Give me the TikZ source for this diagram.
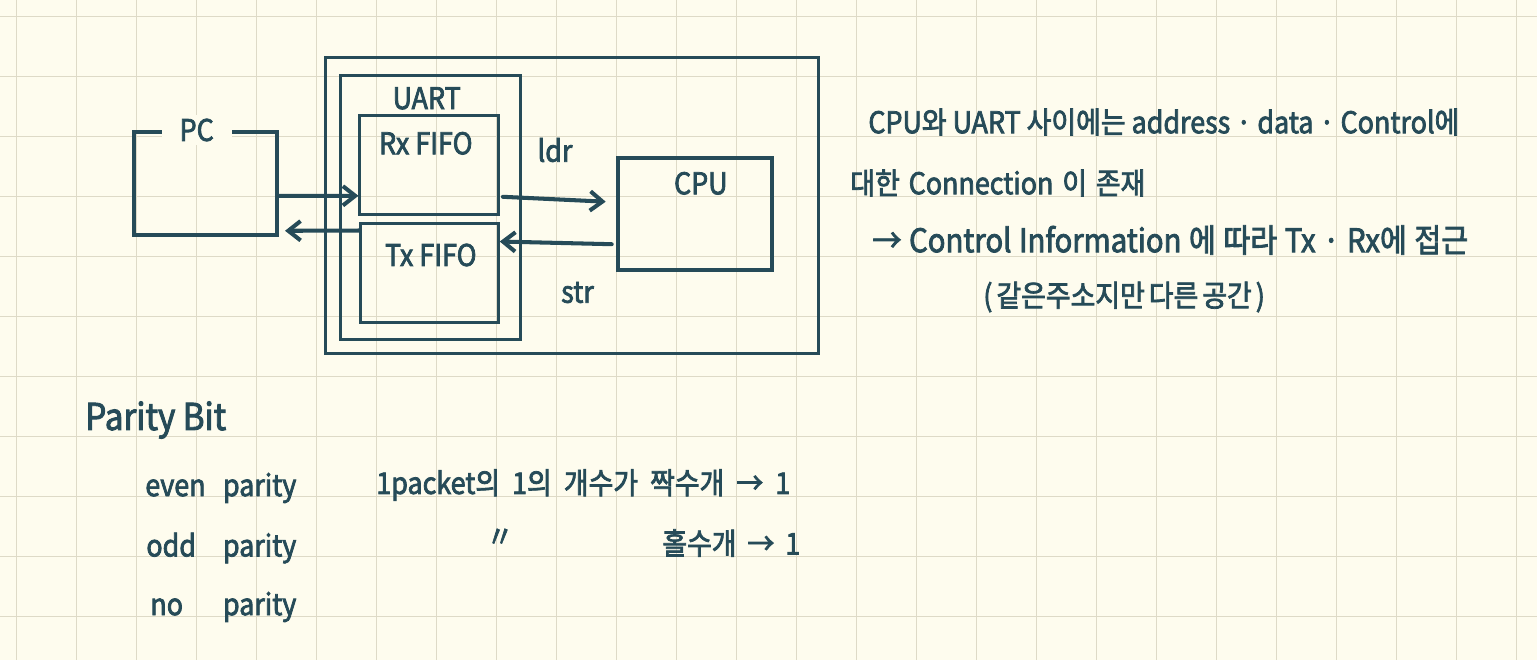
\documentclass[tikz,border=0pt]{standalone}
\usepackage{fontspec}
\setmainfont{Noto Sans CJK KR}
\newfontfamily\hand[FakeStretch=0.9, FakeBold=2.5]{Noto Sans CJK KR}
\usetikzlibrary{positioning, arrows.meta}
\definecolor{paperBg}{RGB}{254, 252, 238}
\definecolor{gridLine}{RGB}{222, 218, 199}
\definecolor{inkTeal}{RGB}{38, 75, 88}
\newcommand{\spread}[2]{\makebox[#1][s]{#2}}

\begin{document}
\begin{tikzpicture}[
    x=0.02cm, y=-0.02cm,
    font=\hand\fontsize{17}{20}\selectfont\color{inkTeal},
    gridrule/.style={gridLine, line width=0.8pt},
    frame/.style={rectangle, draw=inkTeal, line width=1.7pt, inner sep=0pt},
    handbox/.style={frame, line width=2.3pt},
    tag/.style={inner sep=0pt, text=inkTeal},
    note/.style={tag, anchor=west},
    arr/.style={-{Straight Barb[length=7pt, width=11pt]}, line width=2.3pt, line cap=round, inkTeal}
]
\useasboundingbox (0,0) rectangle (1537,660);
\fill[paperBg] (0,0) rectangle (1537,660);
\foreach \gx in {0,...,25}
    \draw[gridrule] ({16.7+60*\gx},0) -- ++(0,660);
\foreach \gy in {0,...,10}
    \draw[gridrule] (0,{16.7+60*\gy}) -- ++(1537,0);

% boxes
\node[frame, minimum width=9.85cm, minimum height=5.93cm] (board) at (572,205.7) {};
\node[frame, minimum width=3.59cm, minimum height=5.27cm] (uart) at (430.3,207.3) {};
\node[frame, minimum width=2.77cm, minimum height=1.97cm] (rx) at (429.2,164.8) {};
\node[frame, minimum width=2.75cm, minimum height=1.99cm] (tx) at (429.5,273) {};
\node[handbox, minimum width=2.86cm, minimum height=2.07cm] (pc) at (205.5,183.3) {};
\node[handbox, minimum width=3.08cm, minimum height=2.23cm] (cpu) at (694.7,214.2) {};

\node[tag, fill=paperBg, inner xsep=0.36cm, inner ysep=2pt] (pclbl) at (196.7,130) {PC};
\node[tag] (uartlbl) at (426.7,98.3) {UART};
\node[tag] (rxlbl) at (425.8,143.3) {Rx FIFO};
\node[tag] (txlbl) at (430.8,255) {Tx FIFO};
\node[tag] (cpulbl) at (700.8,183.3) {CPU};
\node[tag] (ldr) at (555,150) {ldr};
\node[tag] (str) at (577.5,292.5) {str};

\draw[arr] ([yshift=-0.25cm]pc.east) -- ([yshift=-0.62cm]rx.west);
\draw[arr] ([yshift=0.85cm]tx.west) -- ([xshift=0.12cm, yshift=-0.95cm]pc.east);
\draw[arr] ([xshift=0.06cm, yshift=-0.64cm]rx.east) -- ([xshift=-0.2cm, yshift=0.25cm]cpu.west);
\draw[arr] ([xshift=-0.08cm, yshift=-0.6cm]cpu.west) -- ([yshift=0.63cm]tx.east);

% notes on the right
\node[note] (bus1) at (868,122) {CPU와 UART 사이에는 address · data · Control에};
\node[note] (bus2) at (850,183) {\spread{5.9cm}{대한 Connection 이 존재}};
\node[note, font=\hand\fontsize{18.5}{22}\selectfont] (bus3) at (872,240) {\spread{11.92cm}{→ Control Information 에 따라 Tx · Rx에 접근}};
\node[note] (bus4) at (983,297) {\spread{5.34cm}{( 같은주소지만 다른 공간 )}};

% parity
\node[note, font=\hand\fontsize{21}{24}\selectfont] (parity) at (85,420) {Parity Bit};
\node[note] (even) at (145,488) {\spread{3.02cm}{even parity}};
\node[note] (odd) at (146,548) {\spread{3.0cm}{odd parity}};
\node[note] (none) at (150,607) {\spread{2.92cm}{no parity}};
\node[note] (evenrule) at (376,485) {\spread{8.28cm}{1packet의 1의 개수가 짝수개 → 1}};
\node[tag] (ditto) at (500,538) {〃};
\node[note] (oddrule) at (662,543) {\spread{2.76cm}{홀수개 → 1}};
\end{tikzpicture}
\end{document}
